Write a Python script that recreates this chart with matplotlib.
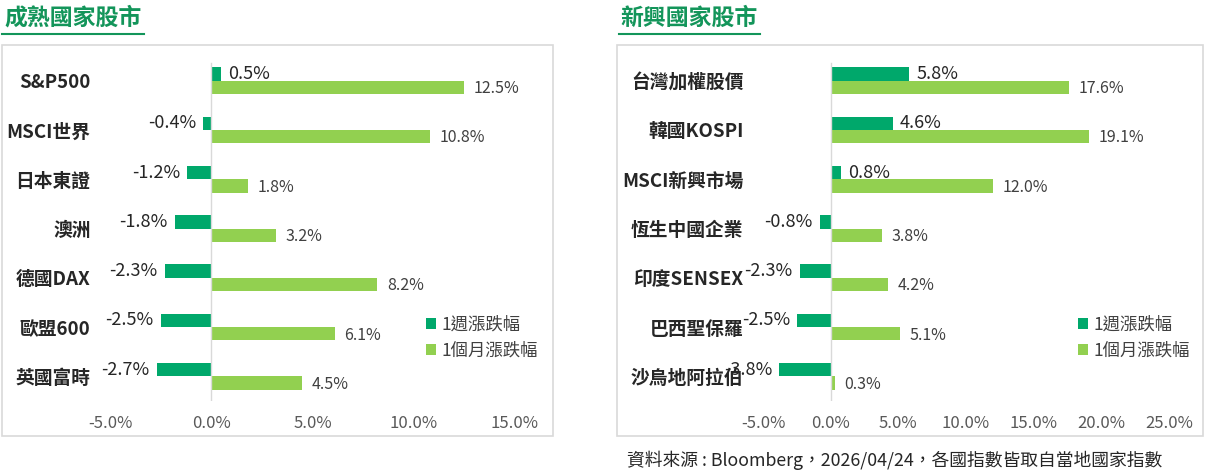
import numpy as np
import matplotlib
matplotlib.use("Agg")
from matplotlib import pyplot as plt
from matplotlib.patches import Rectangle
from matplotlib.lines import Line2D

plt.rcParams['font.family'] = ['Noto Sans CJK TC', 'DejaVu Sans']

# data
dev_names = ["S&P500", "MSCI世界", "日本東證", "澳洲", "德國DAX", "歐盟600", "英國富時"]
dev_week = [0.5, -0.4, -1.2, -1.8, -2.3, -2.5, -2.7]
dev_month = [12.5, 10.8, 1.8, 3.2, 8.2, 6.1, 4.5]

emg_names = ["台灣加權股價", "韓國KOSPI", "MSCI新興市場", "恆生中國企業", "印度SENSEX", "巴西聖保羅", "沙烏地阿拉伯"]
emg_week = [5.8, 4.6, 0.8, -0.8, -2.3, -2.5, -3.8]
emg_month = [17.6, 19.1, 12.0, 3.8, 4.2, 5.1, 0.3]

series_names = ["1週漲跌幅", "1個月漲跌幅"]
dev_ticks = [-5, 0, 5, 10, 15]
emg_ticks = [-5, 0, 5, 10, 15, 20, 25]

DARK = "#00A86B"
LIGHT = "#92D050"
TITLE_C = "#13955A"

W, H = 1205, 472
fig = plt.figure(figsize=(W / 100, H / 100), dpi=100)


def px(x0, y0, x1, y1):
    # pixel box (top-left origin) -> figure fraction rect
    return [x0 / W, 1 - y1 / H, (x1 - x0) / W, (y1 - y0) / H]


def panel(rect, names, week, month, ticks, legend_xy):
    ax = fig.add_axes(rect)
    y = np.arange(len(names))
    h = 0.27
    b1 = ax.barh(y - h / 2, week, height=h, color=DARK, label=series_names[0])
    b2 = ax.barh(y + h / 2, month, height=h, color=LIGHT, label=series_names[1])
    ax.set_xlim(ticks[0], ticks[-1])
    ax.set_ylim(len(names) - 0.5, -0.5)
    ax.axvline(0, color="#d9d9d9", lw=1, ymin=0.0, ymax=0.98)
    for s in ax.spines.values():
        s.set_visible(False)
    ax.set_xticks(ticks)
    ax.set_xticklabels([f"{t:.1f}%" for t in ticks])
    ax.set_yticks(y)
    ax.set_yticklabels(names)
    ax.tick_params(axis="x", length=0, pad=10, labelsize=12, labelcolor="#595959")
    ax.tick_params(axis="y", length=0, pad=14, labelsize=13.5, labelcolor="#262626")
    for lab in ax.get_yticklabels():
        lab.set_fontweight("demibold")

    for yi, v in zip(y, week):
        off = 5 if v >= 0 else -5
        ax.annotate(f"{v:.1f}%", (v, yi - h / 2), xytext=(off, 0), textcoords="offset points",
                    ha="left" if v >= 0 else "right", va="center",
                    fontsize=13, color="#262626")
    for yi, v in zip(y, month):
        ax.annotate(f"{v:.1f}%", (v, yi + h / 2), xytext=(7, -1), textcoords="offset points",
                    ha="left", va="center", fontsize=11.5, color="#404040")

    lx, ly = legend_xy
    ax.legend(handles=[b1, b2], loc="upper left", bbox_to_anchor=(lx / W, 1 - ly / H),
              bbox_transform=fig.transFigure, frameon=False, fontsize=12.5,
              handlelength=0.6, handleheight=0.6, handletextpad=0.3,
              labelspacing=0.45, labelcolor="#404040")
    return ax


# frames
fig.add_artist(Rectangle((2 / W, 1 - 436 / H), 551 / W, 391 / H, transform=fig.transFigure,
                         fill=False, edgecolor="#d9d9d9", lw=1.2))
fig.add_artist(Rectangle((617 / W, 1 - 436 / H), 586 / W, 391 / H, transform=fig.transFigure,
                         fill=False, edgecolor="#d9d9d9", lw=1.2))

panel(px(110, 56, 515, 401), dev_names, dev_week, dev_month, dev_ticks, (410, 300))
panel(px(763, 56, 1169, 401), emg_names, emg_week, emg_month, emg_ticks, (1062, 300))

# titles with underline
fig.text(4 / W, 1 - 18 / H, "成熟國家股市", fontsize=16.5, fontweight="bold", color=TITLE_C, va="center")
fig.add_artist(Line2D([2 / W, 144 / W], [1 - 34 / H] * 2, color=TITLE_C, lw=1.5, transform=fig.transFigure))
fig.text(620 / W, 1 - 18 / H, "新興國家股市", fontsize=16.5, fontweight="bold", color=TITLE_C, va="center")
fig.add_artist(Line2D([619 / W, 760 / W], [1 - 34 / H] * 2, color=TITLE_C, lw=1.5, transform=fig.transFigure))

fig.text(627 / W, 1 - 460 / H, "資料來源 : Bloomberg，2026/04/24，各國指數皆取自當地國家指數",
         fontsize=12.8, color="#262626", va="center")

fig.savefig("out.png", dpi=100)
